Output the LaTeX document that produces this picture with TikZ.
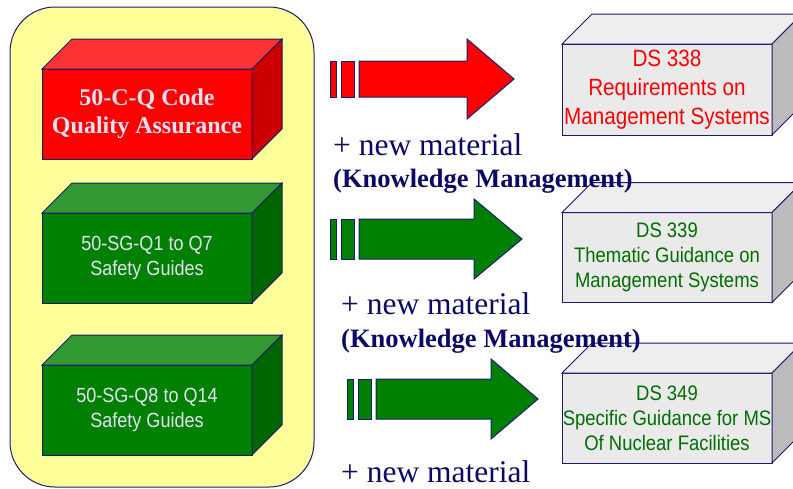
\documentclass[tikz,border=0pt]{standalone}
\usepackage{fontspec}
\setmainfont{Liberation Serif}
\setsansfont{Liberation Sans}
\newfontfamily\narrowsans[FakeStretch=0.88]{Liberation Sans}
\usetikzlibrary{positioning}
\definecolor{panelyellow}{HTML}{FFFF99}
\definecolor{edgenavy}{HTML}{1A1A70}
\definecolor{textnavy}{HTML}{0A0A66}
\definecolor{labelgrey}{HTML}{E2E2F2}
\definecolor{redfront}{HTML}{FF0000}
\definecolor{redtop}{HTML}{FF3333}
\definecolor{redside}{HTML}{CC0000}
\definecolor{greenfront}{HTML}{008000}
\definecolor{greentop}{HTML}{339933}
\definecolor{greenside}{HTML}{006600}
\definecolor{dsfront}{HTML}{EAEAEA}
\definecolor{dstop}{HTML}{EEEEEE}
\definecolor{dsside}{HTML}{BBBBBB}
\definecolor{dsgreen}{HTML}{006E00}

% top and right faces of a box, taken from the front node's corners
\newcommand{\boxfaces}[3]{%
  \filldraw[face, fill=#2] (#1.north west) -- ++(30,-30) -- ([shift={(30,-30)}]#1.north east) -- (#1.north east) -- cycle;
  \filldraw[face, fill=#3] (#1.north east) -- ++(30,-30) -- ([shift={(30,-30)}]#1.south east) -- (#1.south east) -- cycle;
}
% block arrow with two bars: colour, left x, mid y, head base x, tip x, half shaft
\newcommand{\blockarrow}[6]{%
  \filldraw[face, fill=#1] (#2,#3-#6) rectangle (#2+6,#3+#6);
  \filldraw[face, fill=#1] (#2+11,#3-#6) rectangle (#2+24,#3+#6);
  \filldraw[face, fill=#1] (#2+29,#3-#6) -- (#4,#3-#6) -- (#4,#3-40) -- (#5,#3) -- (#4,#3+40) -- (#4,#3+#6) -- (#2+29,#3+#6) -- cycle;
}

\begin{document}
\begin{tikzpicture}[
  x=1pt, y=-1pt,
  face/.style={draw=edgenavy, line width=1pt, line join=miter},
  front/.style={draw=edgenavy, line width=1pt, inner sep=0pt, outer sep=0pt, minimum width=210pt, minimum height=90pt, align=center},
  oldtext/.style={text=labelgrey, font=\narrowsans\fontsize{20.5}{25.5}\selectfont},
  newtext/.style={font=\narrowsans\fontsize{21}{25}\selectfont},
  note/.style={text=textnavy, inner sep=0pt, anchor=base west, font=\fontsize{31.5}{36}\selectfont},
  km/.style={text=textnavy, inner sep=0pt, anchor=base west, font=\bfseries\fontsize{26.5}{30}\selectfont},
]
  \useasboundingbox (0,0) rectangle (793,488);
  \clip (0,0) rectangle (793,488);

  % Old documents
  \node[draw=edgenavy, line width=1pt, fill=panelyellow, rounded corners=45pt, minimum width=304pt, minimum height=480pt] (panel) at (162,247) {};

  \node[front, fill=redfront, text=labelgrey, font=\bfseries\fontsize{24}{28}\selectfont] (cq) at (147,114) {50-C-Q Code\\Quality Assurance};
  \boxfaces{cq}{redtop}{redside}
  \node[front, fill=greenfront, oldtext] (q1) at (147,258) {50-SG-Q1 to Q7\\Safety Guides};
  \boxfaces{q1}{greentop}{greenside}
  \node[front, fill=greenfront, oldtext] (q8) at (147,410) {50-SG-Q8 to Q14\\Safety Guides};
  \boxfaces{q8}{greentop}{greenside}

  % Arrows
  \blockarrow{redfront}{330}{79}{467}{514}{18}
  \blockarrow{greenfront}{330}{239}{474}{522}{20}
  \blockarrow{greenfront}{347}{399}{491}{538}{20}

  % New documents
  \node[front, fill=dsfront, minimum height=91pt, text=red, font=\narrowsans\fontsize{23.5}{29}\selectfont] (ds338) at (667,89.5) {DS 338\\Requirements on\\Management Systems};
  \boxfaces{ds338}{dstop}{dsside}
  \node[front, fill=dsfront, newtext, text=dsgreen] (ds339) at (667,257.5) {DS 339\\Thematic Guidance on\\Management Systems};
  \boxfaces{ds339}{dstop}{dsside}
  \node[front, fill=dsfront, newtext, text=dsgreen] (ds349) at (667,418) {DS 349\\Specific Guidance for MS\\Of Nuclear Facilities};
  \boxfaces{ds349}{dstop}{dsside}

  % Notes
  \node[note] (nm1) at (333,155) {+ new material};
  \node[km] (km1) at (333,187) {(Knowledge Management)};
  \node[note] (nm2) at (341,314) {+ new material};
  \node[km] (km2) at (341,347) {(Knowledge Management)};
  \node[note] (nm3) at (341,482) {+ new material};
\end{tikzpicture}
\end{document}
